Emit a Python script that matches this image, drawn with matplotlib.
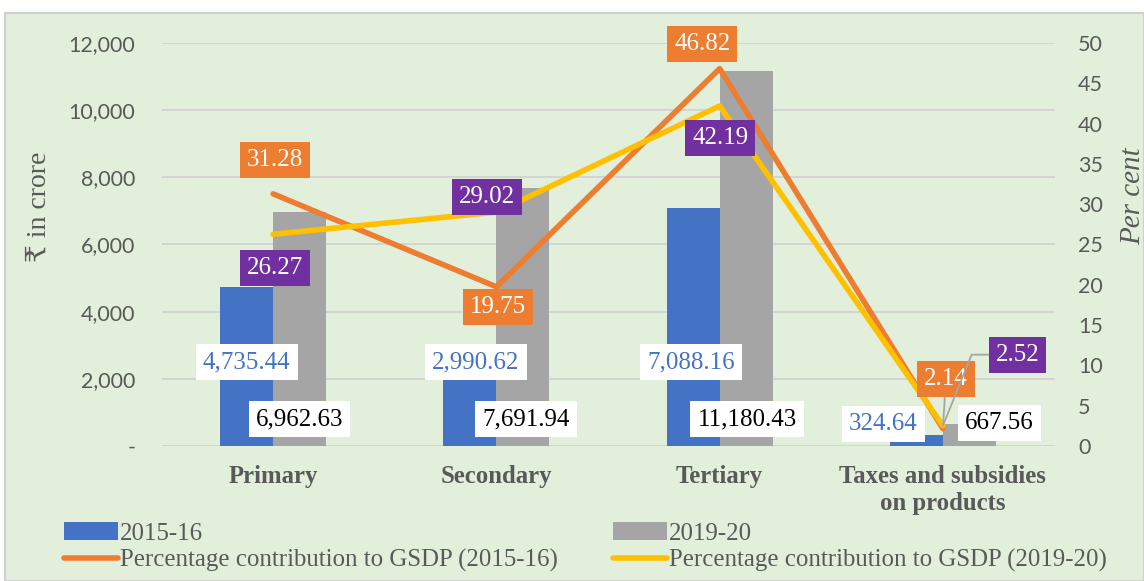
import matplotlib.pyplot as plt
import numpy as np
from matplotlib.patches import Rectangle
from matplotlib.ticker import FuncFormatter

# Data
categories = ['Primary', 'Secondary', 'Tertiary', 'Taxes and subsidies\non products']
gsva_2015 = [4735.44, 2990.62, 7088.16, 324.64]
gsva_2019 = [6962.63, 7691.94, 11180.43, 667.56]
pct_2015 = [31.28, 19.75, 46.82, 2.14]
pct_2019 = [26.27, 29.02, 42.19, 2.52]

# Colours
BLUE = '#4472C4'
GREY = '#A5A5A5'
ORANGE = '#ED7D31'
YELLOW = '#FFC000'
PURPLE = '#7030A0'
BG = '#E2EFDA'
TXT = '#595959'

SERIF = ['Liberation Serif', 'DejaVu Serif']
SANS = ['Lato', 'DejaVu Sans']

fig = plt.figure(figsize=(11.44, 5.81), dpi=100)
bg = Rectangle((5 / 1144, 0), 1 - 5 / 1144, 568 / 581, transform=fig.transFigure,
               facecolor=BG, edgecolor='#D0D0D0', lw=1.5, zorder=-10)
fig.add_artist(bg)

ax = fig.add_axes([0.1412, 0.2324, 0.7806, 0.6936])
ax.set_facecolor('none')
x = np.arange(len(categories))
w = 0.237
ax.bar(x - w, gsva_2015, width=w, align='edge', color=BLUE, label='2015-16', zorder=2)
ax.bar(x, gsva_2019, width=w, align='edge', color=GREY, label='2019-20', zorder=2)

ax.set_xlim(-0.5, len(categories) - 0.5)
ax.set_ylim(0, 12000)
ax.set_yticks(np.arange(0, 12001, 2000))
ax.yaxis.set_major_formatter(FuncFormatter(lambda v, p: '-' if v == 0 else f'{v:,.0f}'))
ax.grid(axis='y', color='#D3D3D3', lw=1.3, zorder=0)
ax.set_axisbelow(True)
for s in ax.spines.values():
    s.set_visible(False)
ax.tick_params(axis='y', length=0, pad=19, labelsize=15.5, labelcolor=TXT)
ax.tick_params(axis='x', length=0, pad=14)
for lbl in ax.get_yticklabels():
    lbl.set_family(SANS)
ax.set_xticks(x)
ax.set_xticklabels(categories, fontfamily=SERIF, fontweight='bold', fontsize=17.8,
                   color=TXT, linespacing=1.2)
ax.set_ylabel('₹ in crore', fontfamily=SERIF, fontsize=20, color=TXT)
ax.yaxis.set_label_coords(-0.1226, 0.593)

ax2 = ax.twinx()
ax2.set_ylim(0, 50)
ax2.set_yticks(np.arange(0, 51, 5))
for s in ax2.spines.values():
    s.set_visible(False)
ax2.tick_params(axis='y', length=0, pad=17, labelsize=15.5, labelcolor=TXT)
for lbl in ax2.get_yticklabels():
    lbl.set_family(SANS)
ax2.set_ylabel('Per cent', fontfamily=SERIF, fontsize=21, color=TXT, style='italic', rotation=90)
ax2.yaxis.set_label_coords(1.0733, 0.621)

l1, = ax2.plot(x, pct_2015, color=ORANGE, lw=4, solid_capstyle='round', zorder=3,
               label='Percentage contribution to GSDP (2015-16)')
l2, = ax2.plot(x, pct_2019, color=YELLOW, lw=4, solid_capstyle='round', zorder=4,
               label='Percentage contribution to GSDP (2019-20)')

# Bar value labels (offsets in pixels from bar base)
blue_off = [(0, 84), (6, 84), (-2, 84), (-33, 22)]
grey_off = [(0, 27), (3, 27), (1, 27), (30, 23)]
for i in range(len(categories)):
    ax.annotate(f'{gsva_2015[i]:,.2f}', xy=(x[i] - w / 2, 0), xytext=blue_off[i],
                textcoords='offset pixels', ha='center', va='center', fontsize=18,
                fontfamily=SERIF, color=BLUE, zorder=6, annotation_clip=False,
                bbox=dict(boxstyle='square,pad=0.28', fc='white', ec='none'))
    ax.annotate(f'{gsva_2019[i]:,.2f}', xy=(x[i] + w / 2, 0), xytext=grey_off[i],
                textcoords='offset pixels', ha='center', va='center', fontsize=18,
                fontfamily=SERIF, color='black', zorder=6, annotation_clip=False,
                bbox=dict(boxstyle='square,pad=0.28', fc='white', ec='none'))

# Line value labels (offsets in pixels from the point)
o_off = [(1.5, 34), (1.5, -20.5), (-17.5, 25), (3, 50)]
p_off = [(1.5, -33.5), (-9.5, 15.5), (0.5, -32.5), (74.5, 71)]
for i in range(len(categories)):
    kw = {}
    if i == 3:
        kw = dict(arrowprops=dict(arrowstyle='-', color=GREY, lw=1.3, shrinkA=0, shrinkB=2))
    ax2.annotate(f'{pct_2015[i]:.2f}', xy=(x[i], pct_2015[i]), xytext=o_off[i],
                 textcoords='offset pixels', ha='center', va='center', fontsize=18,
                 fontfamily=SERIF, color='white', zorder=7, annotation_clip=False,
                 bbox=dict(boxstyle='square,pad=0.28', fc=ORANGE, ec='none'), **kw)
    kw2 = {}
    if i == 3:
        kw2 = dict(arrowprops=dict(arrowstyle='-', color=GREY, lw=1.3, shrinkA=0, shrinkB=2,
                                   relpos=(0, 0.5),
                                   connectionstyle='angle,angleA=180,angleB=68,rad=0'))
    ax2.annotate(f'{pct_2019[i]:.2f}', xy=(x[i], pct_2019[i]), xytext=p_off[i],
                 textcoords='offset pixels', ha='center', va='center', fontsize=18,
                 fontfamily=SERIF, color='white', zorder=7, annotation_clip=False,
                 bbox=dict(boxstyle='square,pad=0.28', fc=PURPLE, ec='none'), **kw2)

# Legend
h1, lab1 = ax.get_legend_handles_labels()
handles = [h1[0], l1, h1[1], l2]
labels = [lab1[0], l1.get_label(), lab1[1], l2.get_label()]
fig.legend(handles, labels, ncol=2, loc='lower left', bbox_to_anchor=(0.043, -0.01),
           frameon=False, prop={'family': SERIF, 'size': 17.9}, labelcolor=TXT,
           handlelength=2.15, handletextpad=0.1, columnspacing=2.22, labelspacing=0.17,
           borderaxespad=0.2)

fig.savefig('out.png', dpi=100, facecolor='white')
